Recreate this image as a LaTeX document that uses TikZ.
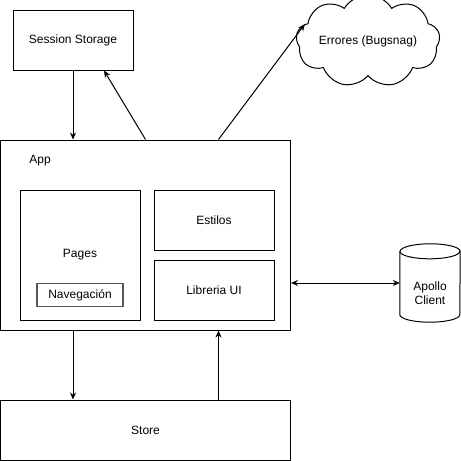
\documentclass[tikz,border=0pt]{standalone}
\usepackage{fontspec}
\setmainfont{Liberation Sans}
\usepackage{tikz}
\usetikzlibrary{arrows.meta}
\usetikzlibrary{shapes.symbols}

\begin{document}
\begin{tikzpicture}[
	x = 1pt, y = -1pt,
	every node/.style = {font = \fontsize{12}{14}\selectfont, inner sep = 0pt},
	box/.style = {draw, line width = 1pt, minimum width = #1},
	box/.default = 120pt,
	arr/.style = {line width = 1pt, -{Stealth[length = 7pt, width = 6pt]}},
	darr/.style = {line width = 1pt, {Stealth[length = 7pt, width = 6pt]}-{Stealth[length = 7pt, width = 6pt]}}
	]
	\useasboundingbox (0,0) rectangle (461,461);
	% boxes
	\node[box, minimum height = 60pt] (sess) at (73,40) {Session Storage};
	\node[box = 290pt, minimum height = 190pt] (app) at (145.5,235) {};
	\node (applabel) at (40,161) {App};
	\node[box, minimum height = 130pt] (pages) at (80,255) {Pages};
	\node[draw = black!65, line width = 1.2pt, minimum width = 86pt, minimum height = 23pt] (nav) at (80,295) {Navegación};
	\node[box, minimum height = 60pt] (estilos) at (214,220) {Estilos};
	\node[box, minimum height = 60pt] (libui) at (214,290) {Libreria UI};
	\node[box = 290pt, minimum height = 60pt] (store) at (145.5,430) {Store};
	% cylinder
	\node[minimum width = 60pt, minimum height = 78pt] (apollo) at (430,283) {};
	\draw[line width = 1pt] ([yshift = -7.5pt]apollo.north west) -- ([yshift = 7.5pt]apollo.south west)
		arc[start angle = 180, end angle = 360, x radius = 30pt, y radius = 7.5pt]
		-- ([yshift = -7.5pt]apollo.north east)
		arc[start angle = 0, end angle = 180, x radius = 30pt, y radius = 7.5pt];
	\draw[line width = 1pt] ([yshift = -7.5pt]apollo.north west)
		arc[start angle = 180, end angle = 360, x radius = 30pt, y radius = 7.5pt];
	\node[align = center] (apollolabel) at ([yshift = -10pt]apollo.center) {Apollo\\Client};
	\node[cloud, draw, line width = 1pt, cloud puffs = 9, cloud puff arc = 120, aspect = 2,
		minimum width = 137pt, minimum height = 70pt] (errores) at (368,41) {Errores (Bugsnag)};
	% connectors
	\draw[arr] (sess.south) -- (sess.south |- app.north);
	\draw[arr] (app.north) -- ([xshift = 31pt]sess.south);
	\draw[arr] ([xshift = 73pt]app.north) -- (errores.165);
	\draw[darr] ([yshift = -48pt]app.east) -- (apollo.west);
	\draw[arr] (sess.south |- app.south) -- (sess.south |- store.north);
	\draw[arr] ([xshift = 73pt]store.north) -- ([xshift = 73pt]app.south);
\end{tikzpicture}
\end{document}
